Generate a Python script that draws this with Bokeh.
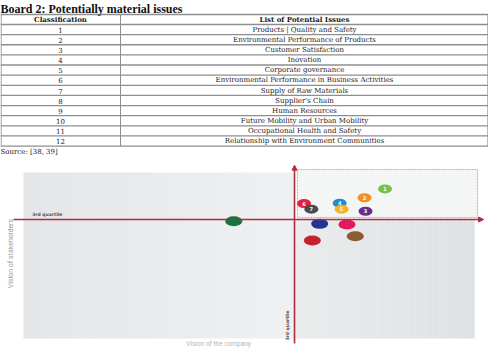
from bokeh.plotting import figure
from bokeh.layouts import column
from bokeh.models import Range1d, Arrow, NormalHead, ColumnDataSource
from bokeh.core.properties import value
from bokeh.embed import file_html
from bokeh.resources import INLINE

# ---- table data ----
title = "Board 2: Potentially material issues"
col_headers = ["Classification", "List of Potential Issues"]
classification = ["1", "2", "3", "4", "5", "6", "7", "8", "9", "10", "11", "12"]
issues = [
    "Products | Quality and Safety",
    "Environmental Performance of Products",
    "Customer Satisfaction",
    "Inovation",
    "Corporate governance",
    "Environmental Performance in Business Activities",
    "Supply of Raw Materials",
    "Supplier's Chain",
    "Human Resources",
    "Future Mobility and Urban Mobility",
    "Occupational Health and Safety",
    "Relationship with Environment Communities",
]
source_note = "Source: [38, 39]"

# ---- materiality matrix data (scores 0-100) ----
issue_labels = ["1", "2", "3", "4", "5", "6", "7", "", "", "", "", ""]
company_view = [78.8, 74.6, 74.8, 69.5, 69.9, 62.2, 63.7, 65.4, 71.0, 72.7, 63.9, 47.8]
stakeholder_view = [84.9, 80.2, 73.0, 77.3, 74.1, 77.1, 74.1, 66.3, 66.0, 59.7, 57.4, 67.7]
issue_colors = ["#7cbf45", "#f3901f", "#6b2d8e", "#1d8ed0", "#f7b324", "#e7203b",
                "#4b4b4f", "#223595", "#e3185d", "#8a5c33", "#c3232e", "#0a7a3d"]
q3_company = 60.25
q3_stakeholders = 68.6

TITLE_FONT = value("Liberation Serif")
BODY_FONT = value("DejaVu Serif")
SANS = value("Roboto")
RED = "#ad2d3c"

# ================= table =================
t = figure(width=488, height=160, x_range=Range1d(0, 488), y_range=Range1d(160, 0),
           output_backend="svg", toolbar_location=None, min_border=0,
           x_axis_location=None, y_axis_location=None)
t.grid.visible = False
t.outline_line_color = None

top, head_h, row_h = 14.0, 10.0, 10.13
lines_y = [top, top + head_h] + [top + head_h + row_h * (k + 1) for k in range(len(issues))]
bottom = lines_y[-1]
t.segment(x0=0, x1=488, y0=lines_y, y1=lines_y, line_color="#8e8e8e", line_width=1.3)
t.segment(x0=[0.6, 120, 487.4], x1=[0.6, 120, 487.4], y0=top, y1=bottom,
          line_color="#8e8e8e", line_width=1)

row_mid = [top + head_h + row_h * (k + 0.5) + 0.2 for k in range(len(issues))]
t.text(x=[60, 304], y=[top + head_h / 2 + 0.3] * 2, text=col_headers,
       text_align="center", text_baseline="middle", text_font=BODY_FONT,
       text_font_size="7px", text_font_style="bold", text_color="#1a1a1a")
t.text(x=60, y=row_mid, text=classification, text_align="center", text_baseline="middle",
       text_font=BODY_FONT, text_font_size="7px", text_color="#222")
t.text(x=304, y=row_mid, text=issues, text_align="center", text_baseline="middle",
       text_font=BODY_FONT, text_font_size="7px", text_color="#222")
t.text(x=[0], y=[8.0], text=[title], text_baseline="middle", text_font=TITLE_FONT,
       text_font_size="12px", text_font_style="bold", text_color="#111")
t.text(x=[0], y=[151.5], text=[source_note], text_baseline="middle", text_font=BODY_FONT,
       text_font_size="7px", text_color="#222")

# ================= matrix =================
m = figure(width=488, height=188, x_range=Range1d(0, 100), y_range=Range1d(0, 100),
           output_backend="svg", toolbar_location=None, min_border=0,
           x_axis_location=None, y_axis_location=None)
m.grid.visible = False
m.outline_line_color = None


def blend(c1, c2, f):
    a = [int(c1[i:i + 2], 16) for i in (1, 3, 5)]
    b = [int(c2[i:i + 2], 16) for i in (1, 3, 5)]
    return "#%02x%02x%02x" % tuple(round(a[j] + (b[j] - a[j]) * f) for j in range(3))


def shaded_band(x0, x1, y0, y1, c_left, c_right, n=30):
    step = (x1 - x0) / n
    lefts = [x0 + i * step for i in range(n)]
    rights = [l + step * 1.05 for l in lefts]
    cols = [blend(c_left, c_right, i / (n - 1)) for i in range(n)]
    m.quad(left=lefts, right=rights, bottom=y0, top=y1, fill_color=cols, line_color=None)


# quadrant panels
shaded_band(4.71, q3_company, 5.3, 93.6, "#e4e6e8", "#eff0f1")
shaded_band(q3_company, 97.13, 5.3, q3_stakeholders, "#e9ebec", "#dfe2e4")
m.quad(left=q3_company + 0.6, right=97.75, bottom=q3_stakeholders + 1.1, top=95.2,
       fill_color="#f4f5f5", line_color="#d5a3aa", line_dash="2 1", line_width=1)

# quartile axes
m.add_layout(Arrow(end=NormalHead(size=5, fill_color=RED, line_color=RED),
                   x_start=2.66, y_start=q3_stakeholders, x_end=99.0, y_end=q3_stakeholders,
                   line_color=RED, line_width=1.6))
m.add_layout(Arrow(end=NormalHead(size=5, fill_color=RED, line_color=RED),
                   x_start=q3_company, y_start=2.66, x_end=q3_company, y_end=97.5,
                   line_color=RED, line_width=1.6))

m.text(x=[6.5], y=[q3_stakeholders + 1.6], text=["3rd quartile"], text_baseline="bottom",
       text_font=value("DejaVu Sans"), text_font_size="4.5px", text_font_style="bold",
       text_color="#555")
m.text(x=[q3_company - 1.4], y=[12.2], text=["3rd quartile"], angle=1.5708,
       text_align="center", text_baseline="middle", text_font=value("DejaVu Sans"),
       text_font_size="4.5px", text_font_style="bold", text_color="#555")

m.text(x=[2.05], y=[50.5], text=["Vision of stakeholders"], angle=1.5708,
       text_align="center", text_baseline="middle", text_font=SANS,
       text_font_size="7px", text_color="#9a9a9a")
m.text(x=[44.7], y=[0.2], text=["Vision of the company"], text_align="center",
       text_baseline="bottom", text_font=SANS, text_font_size="6.5px", text_color="#b5b5b5")

# issue bubbles
widths = [14 if lab else 17 for lab in issue_labels]
heights = [9 if lab else 10 for lab in issue_labels]
src = ColumnDataSource(dict(x=company_view, y=stakeholder_view, c=issue_colors,
                            w=widths, h=heights, lab=issue_labels))
m.ellipse(x="x", y="y", width="w", height="h", width_units="screen", height_units="screen",
          fill_color="c", line_color=None, source=src)
m.text(x="x", y="y", text="lab", text_align="center", text_baseline="middle",
       text_font=value("DejaVu Sans"), text_font_size="5px", text_font_style="bold",
       text_color="white", source=src)

layout = column(t, m, spacing=0)
open("out.html", "w").write(file_html(layout, INLINE))
